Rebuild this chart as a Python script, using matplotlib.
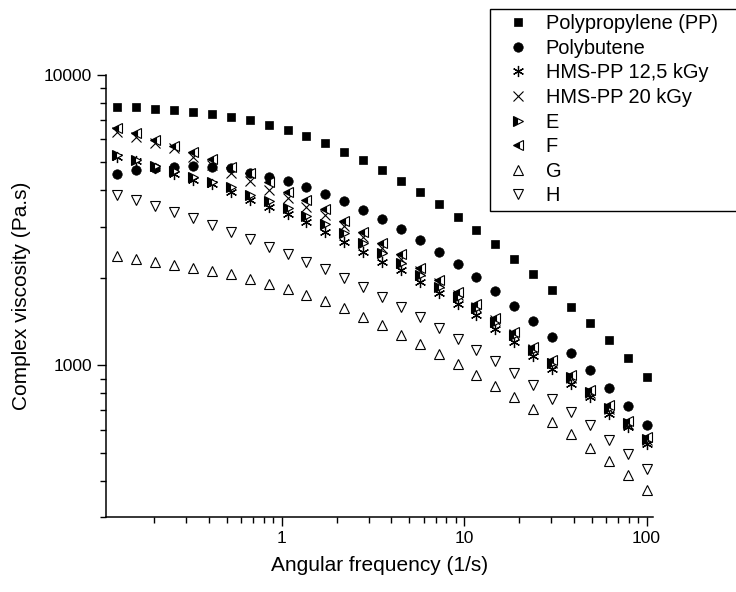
import matplotlib
matplotlib.use("Agg")
import matplotlib.pyplot as plt
from matplotlib.ticker import FixedLocator, NullFormatter

plt.rcParams['font.family'] = ['Liberation Sans', 'DejaVu Sans']

freq = [0.1259, 0.1598, 0.2028, 0.2574, 0.3268, 0.4148, 0.5265, 0.6683, 0.8483,
        1.077, 1.367, 1.735, 2.202, 2.795, 3.548, 4.504, 5.717, 7.257, 9.211,
        11.69, 14.84, 18.84, 23.91, 30.35, 38.52, 48.90, 62.07, 78.79, 100.0]

pp = [7776, 7758, 7654, 7592, 7472, 7338, 7148, 6981, 6725, 6463, 6147, 5828,
      5438, 5080, 4693, 4311, 3940, 3591, 3246, 2914, 2608, 2320, 2060, 1818,
      1589, 1396, 1217, 1057, 911]
pb = [4556, 4704, 4790, 4829, 4845, 4806, 4768, 4604, 4460, 4300, 4120, 3888,
      3668, 3415, 3187, 2937, 2692, 2453, 2225, 2011, 1804, 1597, 1422, 1252,
      1103, 963, 838, 726, 624]
hms125 = [5228, 5051, 4797, 4556, 4361, 4208, 3960, 3706, 3514, 3330, 3120, 2881,
          2662, 2459, 2271, 2126, 1938, 1767, 1623, 1487, 1338, 1203, 1074, 974,
          865, 778, 681, 613, 537]
hms20 = [6375, 6099, 5815, 5588, 5228, 4894, 4592, 4311, 4013, 3756, 3514, 3290,
         3015, 2763, 2532, 2320, 2110, 1918, 1743, 1585, 1430, 1279, 1136, 1016,
         902, 801, 705, 626, 551]
e_vals = [5298, 5112, 4863, 4685, 4467, 4285, 4099, 3857, 3692, 3492, 3277, 3064,
          2846, 2628, 2427, 2242, 2043, 1862, 1720, 1569, 1411, 1269, 1131, 1020,
          910, 808, 715, 632, 558]
f_vals = [6580, 6324, 5993, 5704, 5412, 5145, 4817, 4581, 4276, 3950, 3706, 3451,
          3137, 2868, 2628, 2408, 2165, 1964, 1785, 1623, 1449, 1302, 1156, 1040,
          924, 820, 728, 643, 566]
g_vals = [2376, 2320, 2275, 2222, 2169, 2110, 2055, 1985, 1907, 1824, 1743, 1662,
          1569, 1468, 1374, 1276, 1182, 1094, 1010, 926, 848, 778, 705, 636,
          578, 520, 467, 418, 373]
h_vals = [3857, 3707, 3542, 3377, 3205, 3039, 2882, 2720, 2558, 2414, 2271, 2138,
          1991, 1862, 1720, 1589, 1468, 1349, 1236, 1133, 1032, 940, 853, 768,
          690, 621, 554, 496, 440]

labels = ["Polypropylene (PP)", "Polybutene", "HMS-PP 12,5 kGy", "HMS-PP 20 kGy",
          "E", "F", "G", "H"]

xticks = [1, 10, 100]
xticklabels = ["1", "10", "100"]
yticks = [1000, 10000]
yticklabels = ["1000", "10000"]

fig = plt.figure(figsize=(7.36, 5.92), dpi=100)
ax = fig.add_axes([106/736, 1 - 517/592, (653-106)/736, (517-75)/592])

common = dict(linestyle='none', markeredgecolor='black')
ax.plot(freq, pp, marker='s', ms=6.0, mfc='black', mew=0.5, label=labels[0], **common)
ax.plot(freq, pb, marker='o', ms=6.8, mfc='black', mew=0.5, label=labels[1], **common)
ax.plot(freq, hms125, marker=(6, 2, 0), ms=8, mew=0.9, color='black', label=labels[2], **common)
ax.plot(freq, hms20, marker='x', ms=7, mew=0.8, color='black', label=labels[3], **common)
ax.plot(freq, e_vals, marker='>', ms=7, mew=0.8, mfc='black', mfcalt='white',
        fillstyle='left', label=labels[4], **common)
ax.plot(freq, f_vals, marker='<', ms=7, mew=0.8, mfc='black', mfcalt='white',
        fillstyle='left', label=labels[5], **common)
ax.plot(freq, g_vals, marker='^', ms=7.5, mew=0.8, mfc='white', label=labels[6], **common)
ax.plot(freq, h_vals, marker='v', ms=7.5, mew=0.8, mfc='white', label=labels[7], **common)

ax.set_xscale('log')
ax.set_yscale('log')
ax.set_xlim(0.109, 108.5)
ax.set_ylim(300, 10000)

ax.set_xticks(xticks)
ax.set_xticklabels(xticklabels)
ax.set_yticks(yticks)
ax.set_yticklabels(yticklabels)
ax.xaxis.set_minor_locator(FixedLocator([m * d for d in (0.1, 1, 10) for m in range(2, 10)]))
ax.yaxis.set_minor_locator(FixedLocator([m * d for d in (100, 1000) for m in range(2, 10)]))
ax.xaxis.set_minor_formatter(NullFormatter())
ax.yaxis.set_minor_formatter(NullFormatter())

for s in ('top', 'right'):
    ax.spines[s].set_visible(False)
for s in ('left', 'bottom'):
    ax.spines[s].set_linewidth(1.1)

ax.tick_params(which='major', direction='out', length=6.5, width=1.0, labelsize=12.5, pad=3.5)
ax.tick_params(which='minor', direction='out', length=4, width=1.0)

ax.set_xlabel("Angular frequency (1/s)", fontsize=15, labelpad=7)
ax.set_ylabel("Complex viscosity (Pa.s)", fontsize=15, labelpad=9)

leg = fig.legend(loc='upper left', bbox_to_anchor=(490/736, 1 - 9/592, 300/736, 0),
                 mode='expand', borderaxespad=0, fontsize=14.4, frameon=True,
                 fancybox=False, edgecolor='black', framealpha=1,
                 borderpad=0.26, labelspacing=0.28, handlelength=2.26,
                 handletextpad=0.27, numpoints=1)
leg.get_frame().set_linewidth(1.0)

fig.savefig("out.png", dpi=100)
